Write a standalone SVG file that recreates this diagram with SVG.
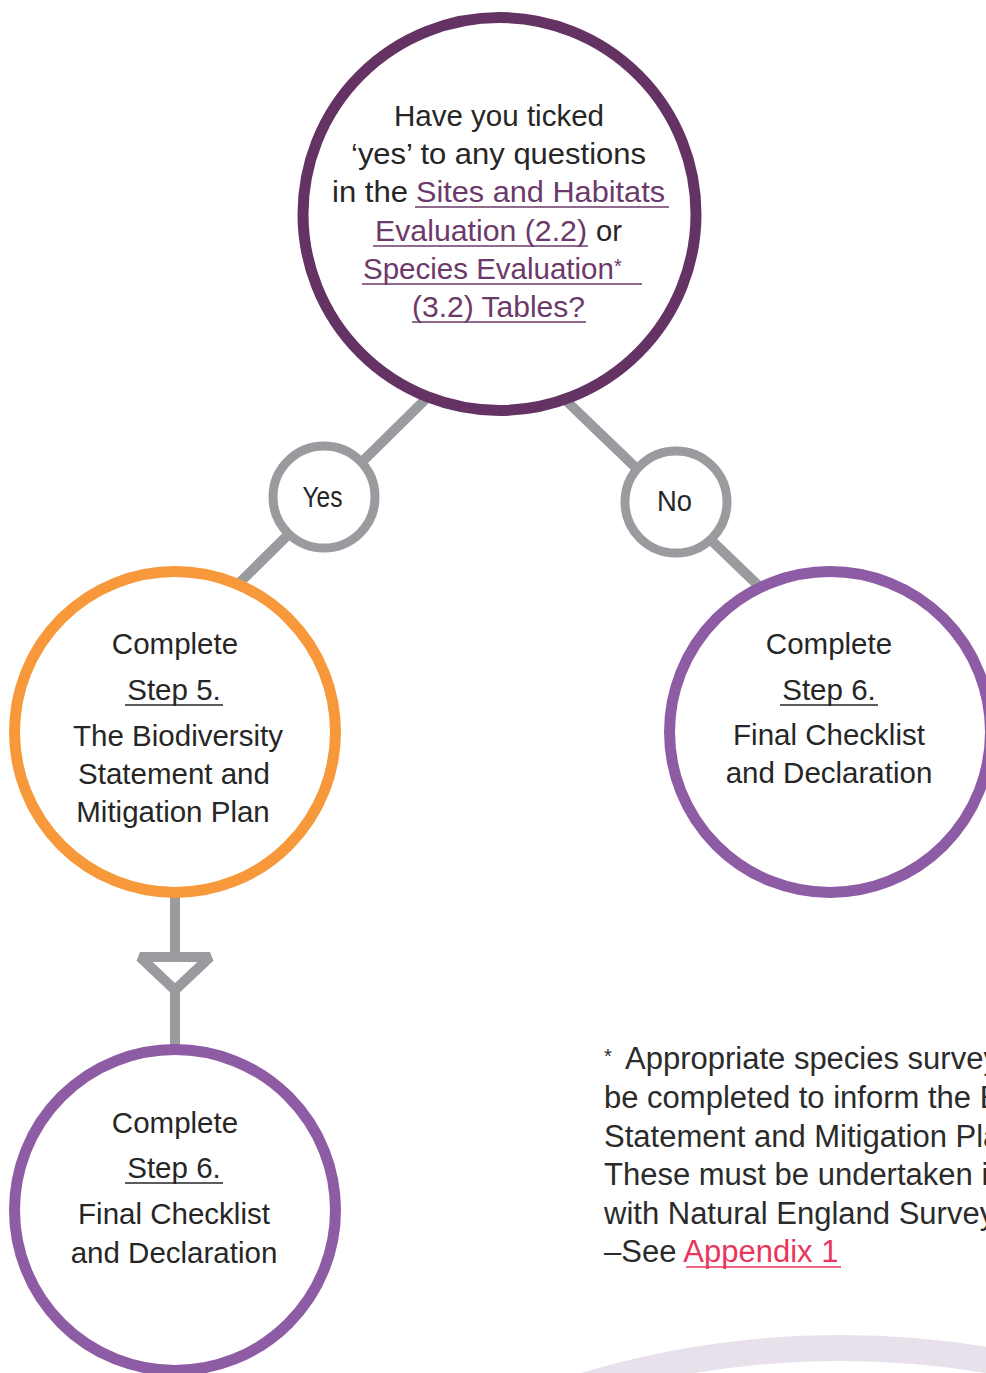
<svg xmlns="http://www.w3.org/2000/svg" width="986" height="1373" viewBox="0 0 986 1373">
  <style>
    .t { font-family: "Liberation Sans", Arial, sans-serif; font-size: 29.5px; fill: #262626; }
    .m { text-anchor: middle; }
    .lk { fill: #6b3a6a; }
    .ul { stroke: #6b3a6a; stroke-width: 1.6; }
    .ulb { stroke: #262626; stroke-width: 1.6; }
    .conn { stroke: #9a9b9e; stroke-width: 10; fill: none; }
    .ring { fill: #ffffff; }
    .fn { font-family: "Liberation Sans", Arial, sans-serif; font-size: 31px; fill: #2b2b2b; }
  </style>

  <!-- decorative background arc -->
  <circle cx="840" cy="2235" r="887" fill="none" stroke="#e8e0ea" stroke-width="26"/>

  <g id="connectors">
    <line class="conn" x1="437" y1="388" x2="228" y2="594"/>
    <line class="conn" x1="555" y1="390" x2="790" y2="616"/>
    <line class="conn" x1="175" y1="890" x2="175" y2="1052"/>
    <polygon points="140,957 210,957 175,990" fill="#ffffff" stroke="#9a9b9e" stroke-width="10" stroke-linejoin="bevel"/>
  </g>

  <g id="question">
    <circle class="ring" cx="499.5" cy="214" r="196.5" stroke="#643263" stroke-width="11"/>
    <text class="t m" x="499" y="126" textLength="210" lengthAdjust="spacingAndGlyphs">Have you ticked</text>
    <text class="t m" x="498.5" y="164" textLength="295" lengthAdjust="spacingAndGlyphs">‘yes’ to any questions</text>
    <text class="t" x="332" y="202" textLength="76" lengthAdjust="spacingAndGlyphs">in the</text>
    <text class="t lk" x="416" y="202" textLength="249" lengthAdjust="spacingAndGlyphs">Sites and Habitats</text>
    <line class="ul" x1="415" y1="207" x2="669" y2="207"/>
    <text class="t lk" x="375" y="241" textLength="212" lengthAdjust="spacingAndGlyphs">Evaluation (2.2)</text>
    <line class="ul" x1="373" y1="246" x2="588" y2="246"/>
    <text class="t" x="596" y="241" textLength="26" lengthAdjust="spacingAndGlyphs">or</text>
    <text class="t lk" x="363" y="279">Species Evaluation<tspan font-size="20" dy="-6">*</tspan></text>
    <line class="ul" x1="362" y1="284" x2="642" y2="284"/>
    <text class="t lk" x="412" y="317" textLength="173" lengthAdjust="spacingAndGlyphs">(3.2) Tables?</text>
    <line class="ul" x1="412" y1="322" x2="586" y2="322"/>
  </g>

  <g id="yes">
    <circle class="ring" cx="324" cy="497" r="51" stroke="#9a9b9e" stroke-width="9"/>
    <text class="t m" x="322.5" y="507" font-size="30" textLength="40" lengthAdjust="spacingAndGlyphs">Yes</text>
  </g>

  <g id="no">
    <circle class="ring" cx="676" cy="502" r="51" stroke="#9a9b9e" stroke-width="9"/>
    <text class="t m" x="674.5" y="511" font-size="30" textLength="35" lengthAdjust="spacingAndGlyphs">No</text>
  </g>

  <g id="step5">
    <circle class="ring" cx="175" cy="732" r="160.5" stroke="#f7993b" stroke-width="11"/>
    <text class="t m" x="175" y="654">Complete</text>
    <text class="t m" x="174" y="700">Step 5.</text>
    <line class="ulb" x1="125" y1="705" x2="223" y2="705"/>
    <text class="t m" x="178" y="746">The Biodiversity</text>
    <text class="t m" x="174" y="784">Statement and</text>
    <text class="t m" x="173" y="822">Mitigation Plan</text>
  </g>

  <g id="step6-right">
    <circle class="ring" cx="830" cy="732" r="160.5" stroke="#8e5ca4" stroke-width="11"/>
    <text class="t m" x="829" y="654">Complete</text>
    <text class="t m" x="829" y="700">Step 6.</text>
    <line class="ulb" x1="780" y1="705" x2="878" y2="705"/>
    <text class="t m" x="829" y="745">Final Checklist</text>
    <text class="t m" x="829" y="783">and Declaration</text>
  </g>

  <g id="step6-bottom">
    <circle class="ring" cx="175" cy="1210" r="160.5" stroke="#8e5ca4" stroke-width="11"/>
    <text class="t m" x="175" y="1133">Complete</text>
    <text class="t m" x="174" y="1178">Step 6.</text>
    <line class="ulb" x1="125" y1="1183" x2="223" y2="1183"/>
    <text class="t m" x="174" y="1224">Final Checklist</text>
    <text class="t m" x="174" y="1263">and Declaration</text>
  </g>

  <g id="footnote">
    <text class="fn" x="604" y="1069"><tspan font-size="20" dy="-6">*</tspan><tspan x="625" dy="6">Appropriate species survey</tspan></text>
    <text class="fn" x="604" y="1108">be completed to inform the B</text>
    <text class="fn" x="604" y="1147">Statement and Mitigation Pla</text>
    <text class="fn" x="604" y="1185">These must be undertaken in</text>
    <text class="fn" x="604" y="1224">with Natural England Survey</text>
    <text class="fn" x="604" y="1262">–See <tspan fill="#e8365d">Appendix 1</tspan></text>
    <line x1="686" y1="1267" x2="841" y2="1267" stroke="#e8365d" stroke-width="1.6"/>
  </g>
</svg>
